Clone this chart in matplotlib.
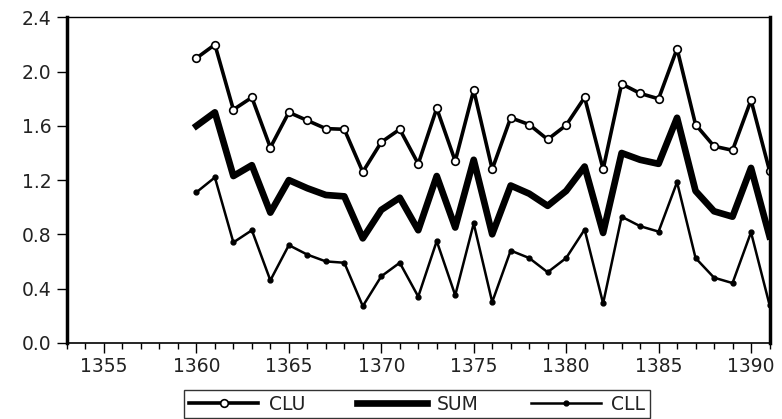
import matplotlib
matplotlib.use("Agg")
import matplotlib.pyplot as plt
from matplotlib.ticker import MultipleLocator
import numpy as np

plt.rcParams['font.family'] = ['DejaVu Sans']

years = np.arange(1360, 1392)
clu = [2.10, 2.20, 1.72, 1.81, 1.44, 1.70, 1.64, 1.58, 1.575, 1.26,
       1.48, 1.575, 1.32, 1.73, 1.34, 1.865, 1.28, 1.66, 1.61, 1.50,
       1.605, 1.81, 1.28, 1.91, 1.84, 1.80, 2.17, 1.61, 1.45, 1.42,
       1.79, 1.27]
sum_ = [1.60, 1.70, 1.23, 1.31, 0.96, 1.20, 1.14, 1.09, 1.08, 0.77,
        0.98, 1.07, 0.83, 1.23, 0.85, 1.35, 0.80, 1.16, 1.10, 1.01,
        1.12, 1.30, 0.81, 1.40, 1.35, 1.32, 1.66, 1.12, 0.97, 0.93,
        1.29, 0.785]
cll = [1.11, 1.22, 0.74, 0.83, 0.46, 0.72, 0.65, 0.60, 0.59, 0.27,
       0.49, 0.59, 0.34, 0.75, 0.35, 0.88, 0.30, 0.68, 0.625, 0.52,
       0.625, 0.835, 0.29, 0.93, 0.86, 0.82, 1.185, 0.625, 0.48, 0.44,
       0.815, 0.28]

fig = plt.figure(figsize=(7.82, 4.19), dpi=100)
ax = fig.add_axes([67/782, 1 - 342.7/419, (769.5-67)/782, (342.7-17.5)/419])

ax.plot(years, clu, color='black', lw=2.6, marker='o', ms=5.5, mfc='white',
        mec='black', mew=1.2, label='CLU')
ax.plot(years, sum_, color='black', lw=4.8, label='SUM')
ax.plot(years, cll, color='black', lw=1.8, marker='o', ms=3.5, mfc='black',
        mec='black', label='CLL')

ax.set_xlim(1353, 1391)
ax.set_ylim(0, 2.4)
ax.xaxis.set_major_locator(MultipleLocator(5))
ax.xaxis.set_minor_locator(MultipleLocator(1))
ax.yaxis.set_major_locator(MultipleLocator(0.4))
ax.yaxis.set_major_formatter(plt.FuncFormatter(lambda v, p: f'{v:.1f}'))

ax.spines['left'].set_linewidth(2.5)
ax.spines['right'].set_linewidth(2.5)
ax.spines['top'].set_linewidth(1.0)
ax.spines['bottom'].set_linewidth(1.2)

ax.tick_params(axis='y', direction='out', length=7, width=1, labelsize=13.5,
               pad=4, labelcolor='#222222')
ax.tick_params(axis='x', which='major', direction='out', length=7, width=1,
               labelsize=13.5, pad=3, labelcolor='#222222')
ax.tick_params(axis='x', which='minor', direction='out', length=4, width=1)

leg = fig.legend(*ax.get_legend_handles_labels(), loc='center',
                 bbox_to_anchor=(417/782, 1 - 404/419), ncol=3, fontsize=13.5,
                 frameon=True, fancybox=False, edgecolor='black',
                 handlelength=3.7, columnspacing=2.8, borderpad=0.25,
                 handletextpad=0.55)
leg.get_frame().set_linewidth(1.0)
for t in leg.get_texts():
    t.set_color('#222222')

fig.savefig('out.png', dpi=100)
